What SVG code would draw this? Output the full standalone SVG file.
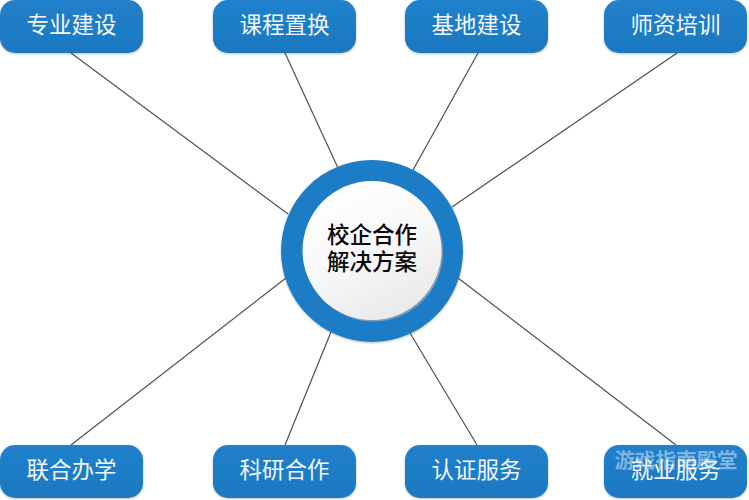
<svg xmlns="http://www.w3.org/2000/svg" width="749" height="500" viewBox="0 0 749 500">
<style>
.lb{font-family:"Liberation Sans","Noto Sans CJK SC",sans-serif;font-size:22.500px;fill:#f4f8fc;text-anchor:middle}
.ct{font-family:"Liberation Sans","Noto Sans CJK SC",sans-serif;font-size:22.500px;font-weight:500;fill:#0a0a0a;text-anchor:middle}
.box{fill:url(#bg);filter:url(#sh)}
#connectors line{stroke:#505050;stroke-width:1.2}
</style>
<defs>
<linearGradient id="bg" x1="0" y1="0" x2="0" y2="1"><stop offset="0" stop-color="#2080cc"/><stop offset="1" stop-color="#1e78c0"/></linearGradient>
<linearGradient id="cg" x1="0.2" y1="0" x2="0.7" y2="1"><stop offset="0" stop-color="#ffffff"/><stop offset="0.5" stop-color="#f8f8f8"/><stop offset="1" stop-color="#e9e9e9"/></linearGradient>
<filter id="sh" x="-10%" y="-15%" width="120%" height="130%"><feDropShadow dx="0" dy="1" stdDeviation="1.2" flood-color="#000" flood-opacity=".25"/></filter>
</defs>
<rect width="749" height="500" fill="#fff"/>
<g id="connectors">
<line x1="71" y1="53" x2="288" y2="214"/>
<line x1="285" y1="53" x2="338" y2="168"/>
<line x1="478" y1="53" x2="413" y2="170"/>
<line x1="677" y1="53" x2="452" y2="207"/>
<line x1="71" y1="445" x2="286" y2="278"/>
<line x1="285" y1="445" x2="331" y2="332"/>
<line x1="477" y1="445" x2="410" y2="333"/>
<line x1="676" y1="445" x2="458" y2="278"/>
</g>
<g id="n1"><rect class="box" x="0" y="0" width="143" height="53" rx="15"/><text class="lb" x="71.500" y="33">专业建设</text></g>
<g id="n2"><rect class="box" x="213" y="0" width="143" height="53" rx="15"/><text class="lb" x="284.500" y="33">课程置换</text></g>
<g id="n3"><rect class="box" x="405" y="0" width="143" height="53" rx="15"/><text class="lb" x="476.500" y="33">基地建设</text></g>
<g id="n4"><rect class="box" x="604" y="0" width="143" height="53" rx="15"/><text class="lb" x="675.500" y="33">师资培训</text></g>
<g id="n5"><rect class="box" x="0" y="445" width="143" height="53" rx="15"/><text class="lb" x="71.500" y="478">联合办学</text></g>
<g id="n6"><rect class="box" x="213" y="445" width="143" height="53" rx="15"/><text class="lb" x="284.500" y="478">科研合作</text></g>
<g id="n7"><rect class="box" x="405" y="445" width="143" height="53" rx="15"/><text class="lb" x="476.500" y="478">认证服务</text></g>
<g id="n8"><rect class="box" x="604" y="445" width="143" height="53" rx="15"/><text x="676" y="468" font-family="'Liberation Sans','Noto Sans CJK SC',sans-serif" font-size="20.500" font-weight="700" fill="#c4dcf2" fill-opacity=".6" text-anchor="middle">游戏指南殿堂</text><text class="lb" x="675.500" y="478">就业服务</text></g>
<g id="center">
<circle cx="372" cy="251" r="91" fill="#1e7cc6" filter="url(#sh)"/>
<circle cx="373.500" cy="252" r="69.500" fill="#7f9db8"/>
<circle cx="372" cy="250.500" r="69.500" fill="url(#cg)"/>
<text class="ct" x="372" y="243">校企合作</text>
<text class="ct" x="372" y="270">解决方案</text>
</g>
</svg>
